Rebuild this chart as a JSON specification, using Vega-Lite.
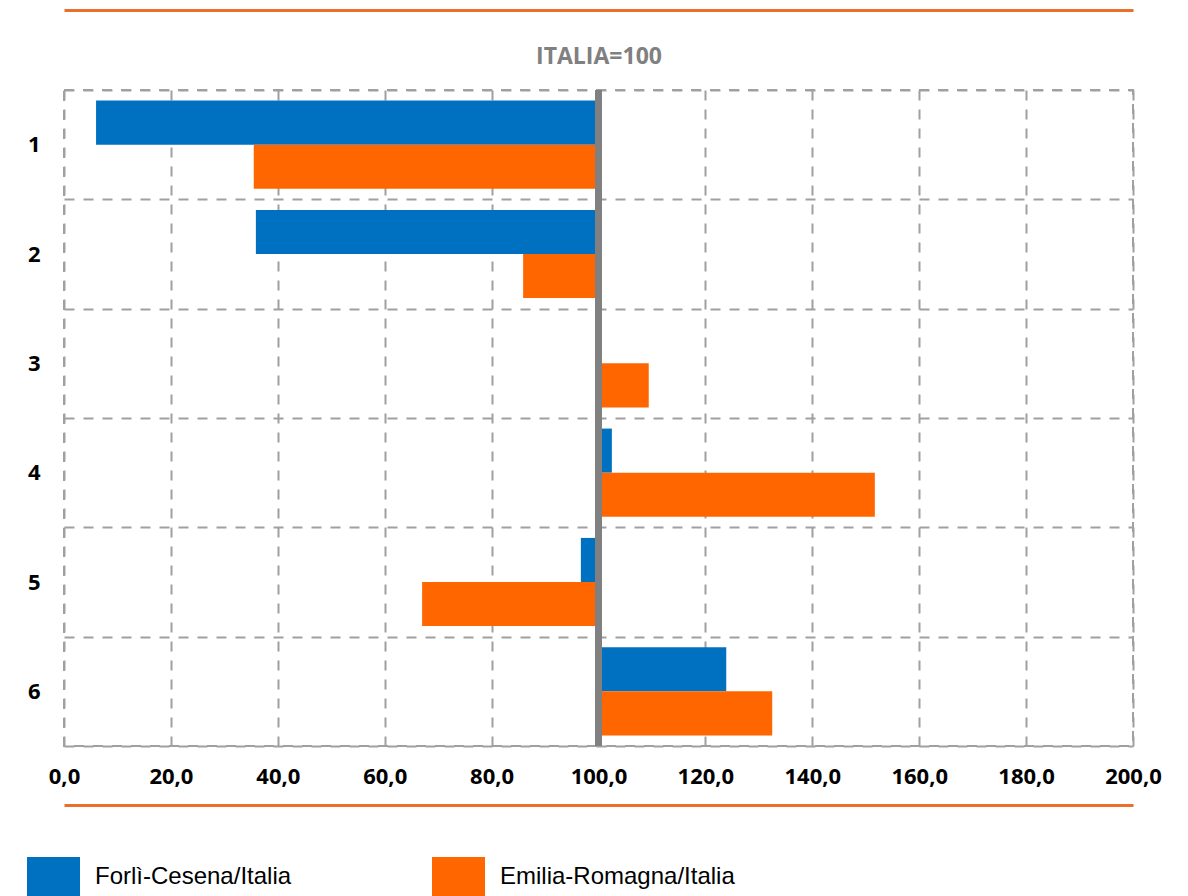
{
  "$schema": "https://vega.github.io/schema/vega-lite/v6.json",
  "width": 1069,
  "height": 656,
  "autosize": {"type": "none"},
  "padding": {"left": 64, "top": 90, "right": 55, "bottom": 150},
  "background": "white",
  "config": {
    "font": "Open Sans",
    "view": {"stroke": "#A0A0A0", "strokeDash": [10, 9], "strokeWidth": 2}
  },
  "data": {
    "values": [
      {"cat": "1", "series": "Forlì-Cesena/Italia", "value": 6.0},
      {"cat": "1", "series": "Emilia-Romagna/Italia", "value": 35.5},
      {"cat": "2", "series": "Forlì-Cesena/Italia", "value": 35.9},
      {"cat": "2", "series": "Emilia-Romagna/Italia", "value": 85.9},
      {"cat": "3", "series": "Forlì-Cesena/Italia", "value": 100.0},
      {"cat": "3", "series": "Emilia-Romagna/Italia", "value": 109.4},
      {"cat": "4", "series": "Forlì-Cesena/Italia", "value": 102.5},
      {"cat": "4", "series": "Emilia-Romagna/Italia", "value": 151.7},
      {"cat": "5", "series": "Forlì-Cesena/Italia", "value": 96.7},
      {"cat": "5", "series": "Emilia-Romagna/Italia", "value": 67.0},
      {"cat": "6", "series": "Forlì-Cesena/Italia", "value": 123.9},
      {"cat": "6", "series": "Emilia-Romagna/Italia", "value": 132.5}
    ]
  },
  "layer": [
    {
      "mark": {"type": "bar"},
      "encoding": {
        "y": {
          "field": "cat",
          "type": "nominal",
          "scale": {"paddingInner": 0, "paddingOuter": 0},
          "axis": {
            "title": null,
            "tickBand": "extent",
            "grid": true,
            "gridColor": "#A0A0A0",
            "gridDash": [10, 9],
            "gridWidth": 2,
            "ticks": false,
            "domain": false,
            "labelFontSize": 22,
            "labelFontWeight": "bold",
            "labelColor": "#000000",
            "labelPadding": 24,
            "labelAngle": 0
          }
        },
        "yOffset": {
          "field": "series",
          "type": "nominal",
          "sort": ["Forlì-Cesena/Italia", "Emilia-Romagna/Italia"],
          "scale": {"paddingOuter": 0.24, "paddingInner": 0}
        },
        "x": {
          "field": "value",
          "type": "quantitative",
          "scale": {"domain": [0, 200], "nice": false, "zero": false},
          "axis": {
            "title": null,
            "values": [0, 20, 40, 60, 80, 100, 120, 140, 160, 180, 200],
            "offset": 59,
            "domain": true,
            "domainColor": "#E8702A",
            "domainWidth": 3,
            "ticks": false,
            "labelPadding": -39,
            "labelFontSize": 22,
            "labelFontWeight": "bold",
            "labelColor": "#000000",
            "labelFlush": false,
            "labelOverlap": false,
            "labelExpr": "replace(format(datum.value, '.1f'), '.', ',')",
            "grid": true,
            "gridColor": "#A0A0A0",
            "gridDash": [10, 9],
            "gridWidth": 2
          }
        },
        "x2": {"datum": 100},
        "color": {
          "field": "series",
          "type": "nominal",
          "scale": {
            "domain": ["Forlì-Cesena/Italia", "Emilia-Romagna/Italia"],
            "range": ["#0070C0", "#FF6600"]
          },
          "legend": {
            "orient": "none",
            "legendX": -37,
            "legendY": 767,
            "direction": "horizontal",
            "columns": 2,
            "title": null,
            "symbolType": "square",
            "symbolSize": 2809,
            "symbolStrokeWidth": 0,
            "symbolOpacity": 1,
            "labelFontSize": 24,
            "labelFont": "Liberation Sans",
            "labelColor": "#000000",
            "labelOffset": 15,
            "labelLimit": 400,
            "labelBaseline": "alphabetic",
            "columnPadding": 102,
            "gridAlign": "all",
            "padding": 0
          }
        }
      }
    },
    {
      "mark": {"type": "rule", "color": "#808080", "strokeWidth": 7},
      "encoding": {
        "x": {
          "datum": 100,
          "axis": {
            "orient": "top",
            "offset": 80,
            "domain": true,
            "domainColor": "#E8702A",
            "domainWidth": 3,
            "labels": false,
            "ticks": false,
            "grid": false,
            "title": "ITALIA=100",
            "titlePadding": -58,
            "titleColor": "#808080",
            "titleFontSize": 23,
            "titleFontWeight": "bold"
          }
        }
      }
    }
  ],
  "resolve": {"axis": {"x": "independent"}}
}
